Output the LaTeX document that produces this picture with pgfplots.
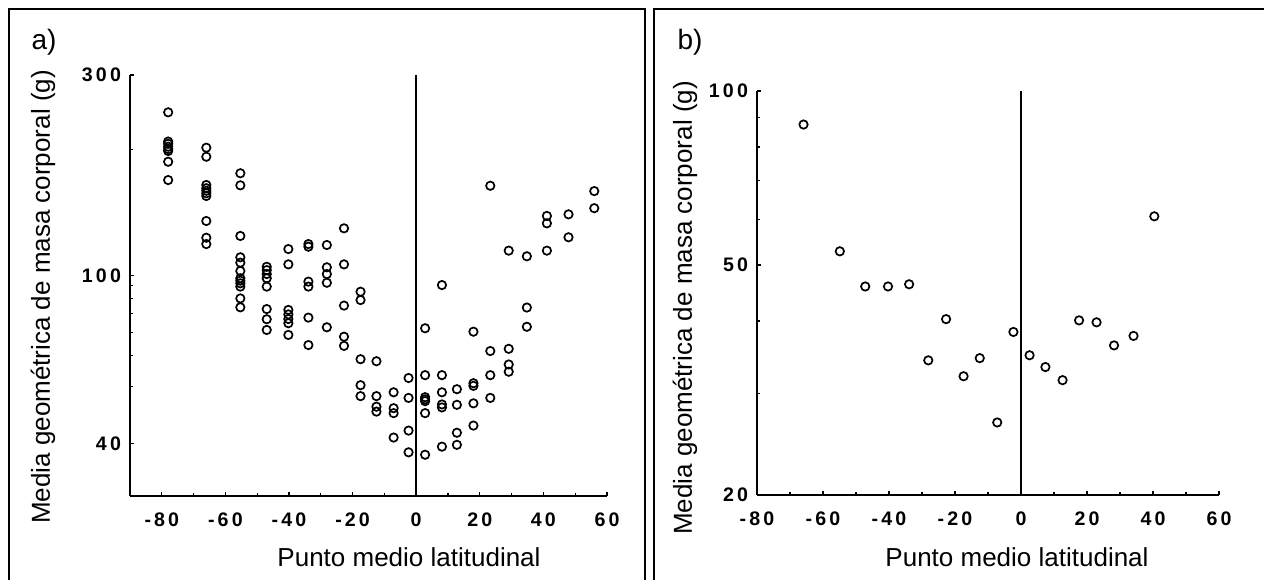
\documentclass[border=0pt]{standalone}
\usepackage{pgfplots}
\pgfplotsset{compat=1.18}
\usepackage{fontspec}
\setmainfont{Liberation Sans}
\newfontfamily\tickfam[LetterSpace=16]{Liberation Sans Bold}
\newcommand\ticklab{\tickfam\fontsize{9.8}{11}\selectfont}
\newcommand\labfont{\fontsize{13}{15}\selectfont}

\pgfplotsset{
  panel/.style={
    anchor=south west, scale only axis,
    axis lines*=left, axis line style={line width=0.95pt, black},
    tick align=inside, major tick length=2.2pt, minor tick length=1.6pt,
    every tick/.style={black, line width=0.6pt},
    yticklabel style={font=\ticklab, text=black, xshift=-1pt},
    xticklabel style={font=\ticklab, text=black, yshift=-5pt},
    xtick={-80,-60,-40,-20,0,20,40,60},
    xticklabels={-80,-60,-40,-20,0,20,40,60},
    clip=false,
  },
  pts/.style={only marks, mark=o, mark size=2.1pt, mark options={line width=0.85pt, black}},
}

\begin{document}
\begin{tikzpicture}
\begin{scope}[x=0.5pt,y=-0.5pt]
\path[use as bounding box] (0,0) rectangle (1264,580);
% frames
\draw[line width=1pt] (9,580) -- (9,9) -- (645,9) -- (645,580);
\draw[line width=1pt] (654,580) -- (654,9) -- (1264,9);
% labels
\node[font=\fontsize{14}{16}\selectfont] at (44,42) {a)};
\node[font=\fontsize{14}{16}\selectfont] at (690,42) {b)};
\node[font=\labfont, rotate=90] at (43,297) {Media geométrica de masa corporal (g)};
\node[font=\labfont, rotate=90] at (685,308) {Media geométrica de masa corporal (g)};
\node[font=\labfont] at (409,557) {Punto medio latitudinal};
\node[font=\labfont] at (1017,557) {Punto medio latitudinal};
\end{scope}

% ---------- panel a ----------
\begin{axis}[ymode=log, panel,
  at={(65pt,-248pt)}, width=238.5pt, height=210.5pt,
  xmin=-90, xmax=60, ymin=30, ymax=300,
  minor xtick={-90,-70,-50,-30,-10,10,30,50},
  ytick={40,100,300}, yticklabels={40,100,300},
  minor ytick={54.7,64.6,73.4,81.3,88.4,95,200},
]
\addplot[black, line width=0.95pt, no marks] coordinates {(0,30) (0,300)};
\addplot[pts] coordinates {
(-78,244.6) (-78,208.5) (-78,205.9) (-78,202.7) (-78,200.1) (-78,198) (-78,186.7) (-78,168.9)
(-66,201.6) (-66,191.9) (-66,164.4) (-66,161.5) (-66,159.3) (-66,157.1) (-66,154.8) (-66,135) (-66,123.2) (-66,119)
(-55.3,175.3) (-55.3,164.1) (-55.3,124.4) (-55.3,110.7) (-55.3,107.5) (-55.3,102.7) (-55.3,98.7) (-55.3,97.4) (-55.3,96) (-55.3,94.3) (-55.3,88.4) (-55.3,84.2)
(-47,105.1) (-47,103.2) (-47,101) (-47,98.7) (-47,94.3) (-47,83.4) (-47,78.9) (-47,74.4)
(-40.2,115.8) (-40.2,106.5) (-40.2,83) (-40.2,81) (-40.2,79) (-40.2,77.2) (-40.2,72.4)
(-33.9,119) (-33.9,117.3) (-33.9,96.9) (-33.9,94.3) (-33.9,79.6) (-33.9,68.5)
(-28.1,118.4) (-28.1,104.8) (-28.1,101) (-28.1,96.3) (-28.1,75.5)
(-22.7,129.7) (-22.7,106.5) (-22.7,85) (-22.7,71.7) (-22.7,68.2)
(-17.5,91.7) (-17.5,87.6) (-17.5,63.4) (-17.5,55) (-17.5,51.8)
(-12.5,62.7) (-12.5,51.8) (-12.5,48.9) (-12.5,47.6)
(-7.1,52.9) (-7.1,48.5) (-7.1,47.2) (-7.1,41.3)
(-2.4,57.2) (-2.4,51.3) (-2.4,42.9) (-2.4,38.1)
(2.8,75.1) (2.8,58.1) (2.8,51.5) (2.8,50.9) (2.8,50.4) (2.8,47.2) (2.8,37.6)
(8.1,95.1) (8.1,58.1) (8.1,52.9) (8.1,49.5) (8.1,48.7) (8.1,39.3)
(12.8,53.8) (12.8,49.4) (12.8,42.4) (12.8,39.7)
(18,73.7) (18,55.6) (18,54.8) (18,49.8) (18,44.1)
(23.3,163.7) (23.3,66.3) (23.3,58.1) (23.3,51.3)
(29.1,114.8) (29.1,67.1) (29.1,61.6) (29.1,59.2)
(34.8,111.3) (34.8,84.1) (34.8,75.7)
(41.1,138.8) (41.1,133.3) (41.1,114.8)
(47.9,140) (47.9,123.5)
(56,159) (56,144.8)
};
\end{axis}

% ---------- panel b ----------
\begin{axis}[ymode=log, panel,
  at={(378.5pt,-247.5pt)}, width=231pt, height=202pt,
  xmin=-80, xmax=60, ymin=20, ymax=100,
  minor xtick={-70,-50,-30,-10,10,30,50},
  ytick={20,50,100}, yticklabels={20,50,100},
  minor ytick={30,40,60,70,80,90},
]
\addplot[black, line width=0.95pt, no marks] coordinates {(0,20) (0,100)};
\addplot[pts] coordinates {
(-65.9,87.5) (-54.9,52.8) (-47.2,45.9) (-40.3,45.9) (-33.9,46.3)
(-28.1,34.2) (-22.7,40.3) (-17.4,32.1) (-12.5,34.5) (-7.2,26.7)
(-2.3,38.3) (2.6,34.9) (7.4,33.3) (12.6,31.6) (17.6,40.1)
(22.9,39.8) (28.2,36.3) (34.1,37.7) (40.4,60.7)
};
\end{axis}
\end{tikzpicture}
\end{document}
